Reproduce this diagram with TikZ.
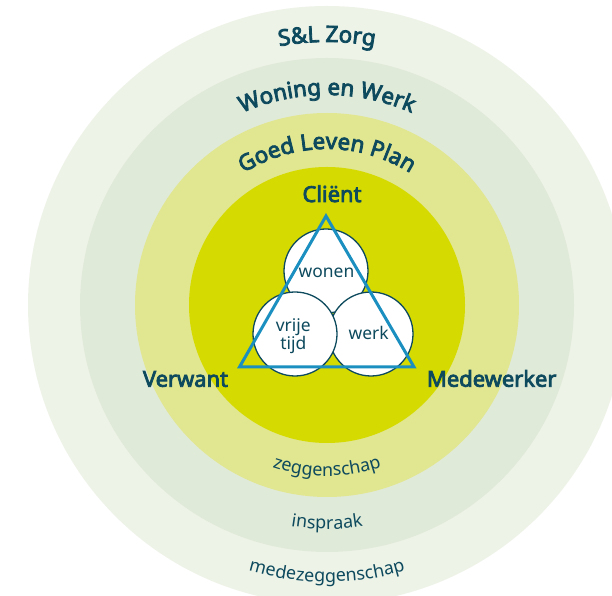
\documentclass[tikz,border=0pt]{standalone}
\usepackage{fontspec}
\setmainfont{Noto Sans}[AutoFakeBold=3.6]
\usetikzlibrary{decorations.text,calc}
\definecolor{ringA}{HTML}{EEF3E8}
\definecolor{ringB}{HTML}{E0EAD9}
\definecolor{ringC}{HTML}{E1E690}
\definecolor{ringD}{HTML}{D5DA00}
\definecolor{tc}{HTML}{0E4A5E}
\definecolor{tri}{HTML}{1A8FC0}
\newcommand\rb{\fontsize{22.5}{26}\selectfont\bfseries\color{tc}}
\newcommand\rr{\fontsize{18}{21}\selectfont\color{tc}}
\begin{document}
\begin{tikzpicture}[x=1bp,y=1bp,
  lifecircle/.style={circle, draw=tc, line width=1.3bp, fill=white, minimum size=84bp, inner sep=0pt},
  boldlabel/.style={anchor=base, text=tc, font=\fontsize{22}{26}\selectfont\bfseries},
  smalllabel/.style={anchor=base, text=tc, font=\fontsize{17.5}{20}\selectfont}]
\useasboundingbox (0,0) rectangle (612,596);
\clip (0,0) rectangle (612,596);
\fill[white] (0,0) rectangle (612,596);
\coordinate (C) at (327,291);
% rings
\fill[ringA] (C) circle[radius=299];
\fill[ringB] (C) circle[radius=247];
\fill[ringC] (C) circle[radius=192];
\fill[ringD] (C) circle[radius=138];
% top arc texts
\path[decorate, decoration={text along path, text align=center, text={|\rb|S{\&}L Zorg}}]
  ($(C)+(160:263)$) arc[start angle=160, end angle=20, radius=263];
\path[decorate, decoration={text along path, text align=center, text={|\rb|Woning en Werk}}]
  ($(C)+(160:210)$) arc[start angle=160, end angle=20, radius=210];
\path[decorate, decoration={text along path, text align=center, text={|\rb|Goed Leven Plan}}]
  ($(C)+(165:156)$) arc[start angle=165, end angle=15, radius=156];
% bottom arc texts
\path[decorate, decoration={text along path, text align=center, text={|\rr|zeggenschap}}]
  ($(C)+(200:171)$) arc[start angle=200, end angle=340, radius=171];
\path[decorate, decoration={text along path, text align=center, text={|\rr|inspraak}}]
  ($(C)+(200:224)$) arc[start angle=200, end angle=340, radius=224];
\path[decorate, decoration={text along path, text align=center, text={|\rr|medezeggenschap}}]
  ($(C)+(200:277)$) arc[start angle=200, end angle=340, radius=277];
% life-domain circles
\node[lifecircle] (wonen) at (326,325) {};
\node[lifecircle] (werk) at (371,262) {};
\node[lifecircle] (vrije) at (295,262) {};
\node[smalllabel] (twonen) at (326.5,318) {wonen};
\node[smalllabel] (tvrije) at (293.3,264.3) {vrije};
\node[smalllabel] (ttijd) at (293.3,246) {tijd};
\node[smalllabel] (twerk) at (368.7,256) {werk};
% triangle
\coordinate (apex) at (326,380);
\coordinate (bl) at (239.5,229);
\coordinate (br) at (414,229);
\draw[tri, line width=3bp, line join=miter] (apex) -- (br) -- (bl) -- cycle;
% corner labels
\node[boldlabel] (client) at (332,394) {Cliënt};
\node[boldlabel] (verwant) at (185.5,209.3) {Verwant};
\node[boldlabel] (medewerker) at (491.7,209.3) {Medewerker};
\end{tikzpicture}
\end{document}
